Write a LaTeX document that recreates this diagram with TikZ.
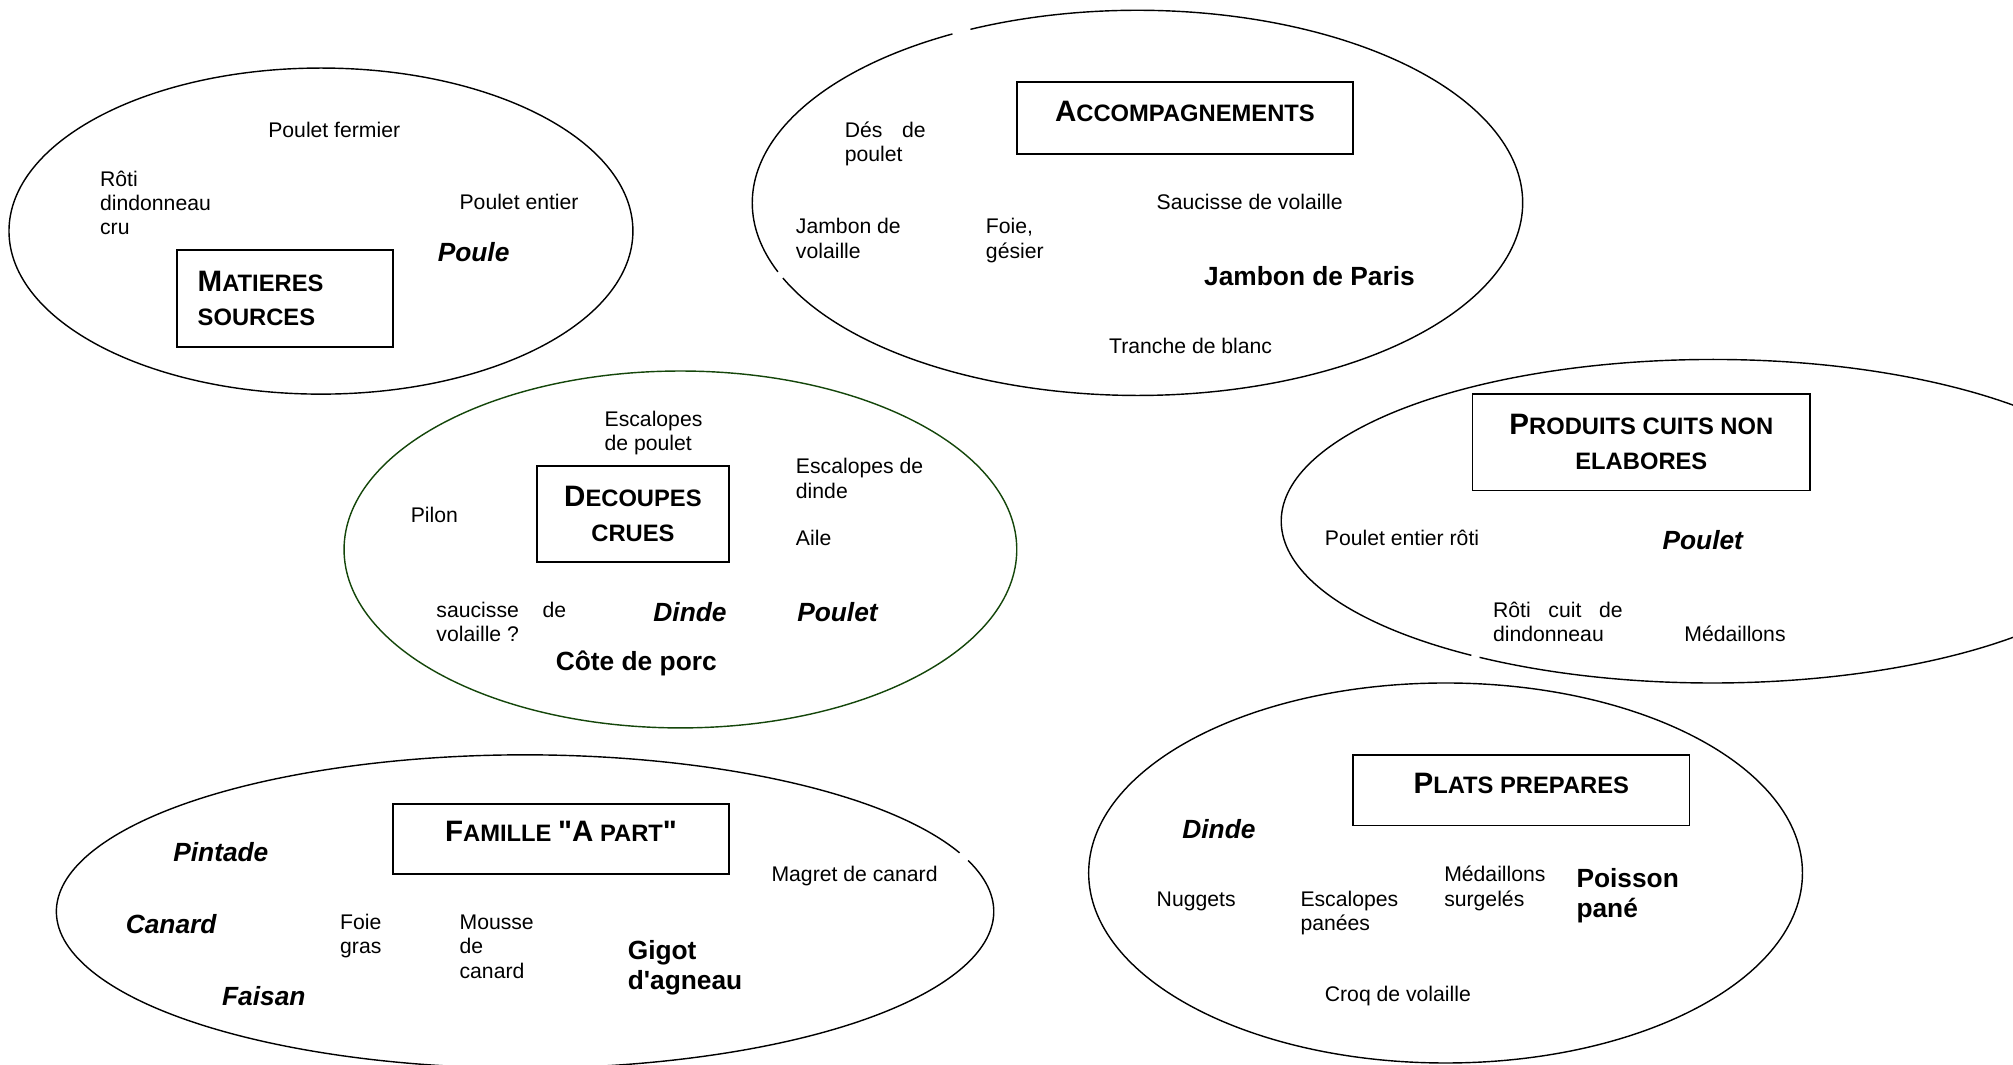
\documentclass[tikz,border=0pt]{standalone}
\usepackage{fontspec}
\setmainfont{Liberation Sans}[Ligatures=TeXOff]
\definecolor{dgreen}{RGB}{20,70,10}
\newcommand{\BL}[1]{{\fontsize{23}{27}\selectfont #1}}
\newcommand{\mlines}[1]{\begin{tabular}[t]{@{}l@{}}#1\end{tabular}}
\tikzset{
  every node/.style={inner sep=0pt, outer sep=0pt},
  txt/.style={anchor=base west, yshift=-2pt, font=\fontsize{16.5}{19}\selectfont},
  bld/.style={anchor=base west, yshift=-1pt, font=\fontsize{20.5}{24}\selectfont\bfseries},
  bit/.style={anchor=base west, yshift=-1pt, font=\fontsize{20.5}{24}\selectfont\bfseries\itshape},
  hbox/.style={draw, fill=white, line width=1.4pt, font=\fontsize{18.5}{27}\selectfont\bfseries, align=center},
  oval/.style={line width=1.1pt},
}
\begin{document}
\begin{tikzpicture}[x=1pt,y=-1pt]
\useasboundingbox (0,0) rectangle (1568,829);
\clip (0,0) rectangle (1568,829);
\fill[white] (0,0) rectangle (1568,829);

% ---- ovals ----
\draw[oval] (250,180) ellipse [x radius=243pt, y radius=127pt];
\draw[oval] (886,158) ++(118.7:300pt and 150pt) arc[start angle=118.7, end angle=201, x radius=300pt, y radius=150pt];
\draw[oval] (886,158) ++(203:300pt and 150pt) arc[start angle=203, end angle=475.7, x radius=300pt, y radius=150pt];
\draw[oval, dgreen] (530,428) ellipse [x radius=262pt, y radius=139pt];
\draw[oval] (1334,406) ++(237.3:336pt and 126pt) arc[start angle=237.3, end angle=596, x radius=336pt, y radius=126pt];
\draw[oval] (409,710) ++(22:365pt and 122pt) arc[start angle=22, end angle=379, x radius=365pt, y radius=122pt];
\draw[oval] (1126,680) ellipse [x radius=278pt, y radius=148pt];

% ---- heading boxes ----
\node[hbox, minimum width=168pt, minimum height=75pt, text width=136pt, align=left] (ms) at (222,232.5) {\BL{M}ATIERES\\SOURCES};
\node[hbox, minimum width=262pt, minimum height=56pt, text depth=10pt] (acc) at (923,92) {\BL{A}CCOMPAGNEMENTS};
\node[hbox, minimum width=150pt, minimum height=75pt] (dc) at (493,400.5) {\BL{D}ECOUPES\\CRUES};
\node[hbox, minimum width=263pt, minimum height=75pt] (pc) at (1278.5,344.5) {\BL{P}RODUITS CUITS NON\\ELABORES};
\node[hbox, minimum width=262pt, minimum height=55pt, text depth=12pt] (fam) at (437,653.5) {\BL{F}AMILLE \BL{"A} PART\BL{"}};
\node[hbox, minimum width=262pt, minimum height=55pt, text depth=11pt] (pp) at (1185,615.5) {\BL{P}LATS PREPARES};

% ---- matieres sources ----
\node[txt] (a1) at (209,105) {Poulet fermier};
\node[txt] (a2) at (78,143) {\mlines{Rôti\\dindonneau\\cru}};
\node[txt] (a3) at (358,161) {Poulet entier};
\node[bit] (a4) at (341,203) {Poule};

% ---- accompagnements ----
\node[txt] (b1) at (658,105) {\mlines{\makebox[63pt][l]{Dés\hfill de}\\poulet}};
\node[txt] (b2) at (620,180) {\mlines{Jambon de\\volaille}};
\node[txt] (b3) at (768,180) {\mlines{Foie,\\gésier}};
\node[txt] (b4) at (901,161) {Saucisse de volaille};
\node[bld] (b5) at (938,221) {Jambon de Paris};
\node[txt] (b6) at (864,273) {Tranche de blanc};

% ---- decoupes crues ----
\node[txt] (c1) at (471,330) {\mlines{Escalopes\\de poulet}};
\node[txt] (c2) at (620,367) {\mlines{Escalopes de\\dinde}};
\node[txt] (c3) at (320,405) {Pilon};
\node[txt] (c4) at (620,423) {Aile};
\node[txt] (c5) at (340,479) {\mlines{\makebox[101pt][l]{saucisse\hfill de}\\volaille ?}};
\node[bit] (c6) at (509,483) {Dinde};
\node[bit] (c7) at (621,483) {Poulet};
\node[bld] (c8) at (433,521) {Côte de porc};

% ---- produits cuits ----
\node[txt] (d1) at (1032,423) {Poulet entier rôti};
\node[bit] (d2) at (1295,427) {Poulet};
\node[txt] (d3) at (1163,479) {\mlines{\makebox[101pt][l]{Rôti\hfill cuit\hfill de}\\dindonneau}};
\node[txt] (d4) at (1312,498) {Médaillons};

% ---- famille a part ----
\node[bit] (e1) at (135,670) {Pintade};
\node[bit] (e2) at (98,726) {Canard};
\node[bit] (e3) at (173,782) {Faisan};
\node[txt] (e4) at (265,722) {\mlines{Foie\\gras}};
\node[txt] (e5) at (358,722) {\mlines{Mousse\\de\\canard}};
\node[bld] (e6) at (489,746) {\mlines{Gigot\\d'agneau}};
\node[txt] (e7) at (601,685) {Magret de canard};

% ---- plats prepares ----
\node[bit] (f1) at (921,652) {Dinde};
\node[txt] (f2) at (901,704) {Nuggets};
\node[txt] (f3) at (1013,704) {\mlines{Escalopes\\panées}};
\node[txt] (f4) at (1125,685) {\mlines{Médaillons\\surgelés}};
\node[bld] (f5) at (1228,690) {\mlines{Poisson\\pané}};
\node[txt] (f6) at (1032,778) {Croq de volaille};
\end{tikzpicture}
\end{document}
